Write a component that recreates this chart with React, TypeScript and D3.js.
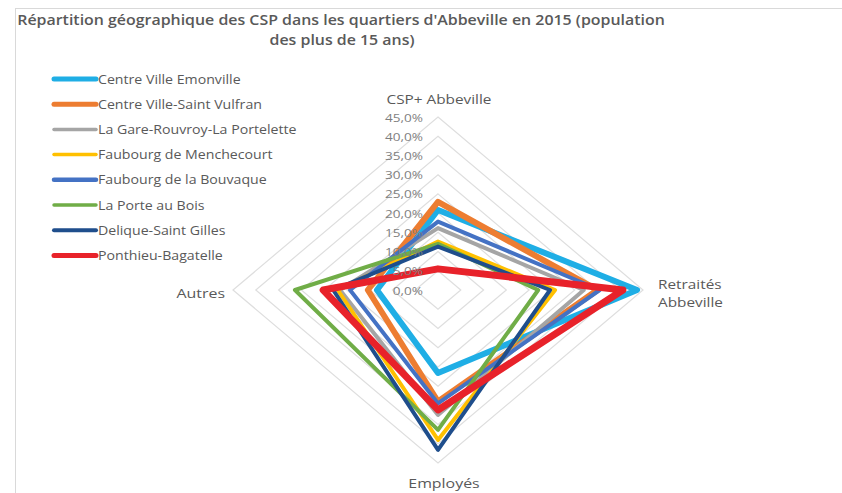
import React from "react";
import * as d3 from "d3";

const axes = ["CSP+ Abbeville", "Retraités Abbeville", "Employés", "Autres"];
const tickValues = [0, 0.05, 0.1, 0.15, 0.2, 0.25, 0.3, 0.35, 0.4, 0.45];

const seriesNames = [
  "Centre Ville Emonville",
  "Centre Ville-Saint Vulfran",
  "La Gare-Rouvroy-La Portelette",
  "Faubourg de Menchecourt",
  "Faubourg de la Bouvaque",
  "La Porte au Bois",
  "Delique-Saint Gilles",
  "Ponthieu-Bagatelle",
];

// values per axis: CSP+, Retraités, Employés, Autres
const centreVilleEmonville = [0.208, 0.437, 0.216, 0.134];
const centreVilleSaintVulfran = [0.229, 0.35, 0.29, 0.154];
const laGare = [0.161, 0.32, 0.325, 0.215];
const menchecourt = [0.126, 0.257, 0.39, 0.22];
const bouvaque = [0.178, 0.355, 0.295, 0.193];
const porteAuBois = [0.12, 0.22, 0.364, 0.314];
const deliqueSaintGilles = [0.113, 0.246, 0.416, 0.23];
const ponthieuBagatelle = [0.055, 0.406, 0.312, 0.252];

const seriesValues = [
  centreVilleEmonville,
  centreVilleSaintVulfran,
  laGare,
  menchecourt,
  bouvaque,
  porteAuBois,
  deliqueSaintGilles,
  ponthieuBagatelle,
];

const colors = ["#1FAEE5", "#ED7D31", "#A5A5A5", "#FFC000", "#4472C4", "#70AD47", "#1F4E8C", "#E8222A"];
const widths = [6, 6, 4, 4, 4, 4, 4, 7];
const legendWidths = [5, 5, 3.5, 3.5, 4.5, 3.5, 4, 5];

const W = 842;
const H = 493;
const cx = 438;
const cy = 290;
const rx = 205;
const ry = 173;
const STRETCH = 1.18;
const font = "'Open Sans', sans-serif";
const textColor = "#595959";

function SText(props: {
  x: number;
  y: number;
  size: number;
  anchor?: string;
  weight?: number;
  fill?: string;
  children: React.ReactNode;
}) {
  const { x, y, size, anchor = "start", weight = 400, fill = textColor, children } = props;
  return (
    <g transform={`translate(${x},${y}) scale(${STRETCH},1)`}>
      <text
        x={0}
        y={0}
        textAnchor={anchor}
        fontFamily={font}
        fontSize={size}
        fontWeight={weight}
        fill={fill}
      >
        {children}
      </text>
    </g>
  );
}

export default function App() {
  const sx = d3.scaleLinear().domain([0, 0.45]).range([0, rx]);
  const sy = d3.scaleLinear().domain([0, 0.45]).range([0, ry]);
  const angle = (i: number) => (i * Math.PI) / 2 - Math.PI / 2;
  const pt = (i: number, v: number): [number, number] => [
    cx + Math.cos(angle(i)) * sx(v),
    cy + Math.sin(angle(i)) * sy(v),
  ];
  const line = d3.line<[number, number]>().curve(d3.curveLinearClosed);
  const fmt = (v: number) => (v * 100).toFixed(1).replace(".", ",") + "%";

  return (
    <svg
      width={W}
      height={H}
      style={{ position: "absolute", left: 0, top: 0, background: "#fff" }}
    >
      <rect x={0} y={0} width={W} height={H} fill="#fff" />
      <rect x={15.5} y={8.5} width={W} height={H} fill="none" stroke="#d9d9d9" />
      <SText x={341} y={25} size={13.5} anchor="middle" weight={600}>
        Répartition géographique des CSP dans les quartiers d'Abbeville en 2015 (population
      </SText>
      <SText x={342} y={45} size={13.5} anchor="middle" weight={600}>
        des plus de 15 ans)
      </SText>

      {/* grid */}
      {tickValues.slice(1).map((t) => (
        <path
          key={t}
          d={line(axes.map((_, i) => pt(i, t))) || ""}
          fill="none"
          stroke="#dedede"
          strokeWidth={1.2}
        />
      ))}

      {/* series */}
      {seriesValues.map((vals, s) => (
        <path
          key={s}
          d={line(vals.map((v, i) => pt(i, v))) || ""}
          fill="none"
          stroke={colors[s]}
          strokeWidth={widths[s]}
          strokeLinejoin="round"
        />
      ))}

      {/* tick labels */}
      {tickValues.map((t) => (
        <SText key={t} x={cx - 15} y={cy - sy(t) + 4.5} size={11.5} anchor="end" fill="#7f7f7f">
          {fmt(t)}
        </SText>
      ))}

      {/* axis labels */}
      <SText x={cx + 1} y={104} size={13} anchor="middle">
        {axes[0]}
      </SText>
      <SText x={658} y={289} size={13}>
        Retraités
      </SText>
      <SText x={658} y={307} size={13}>
        Abbeville
      </SText>
      <SText x={cx + 6} y={488} size={13.5} anchor="middle">
        {axes[2]}
      </SText>
      <SText x={225} y={298} size={13.5} anchor="end">
        {axes[3]}
      </SText>

      {/* legend */}
      {seriesNames.map((name, s) => {
        const y = 79 + s * 25.2;
        return (
          <g key={name}>
            <line
              x1={54}
              x2={96}
              y1={y}
              y2={y}
              stroke={colors[s]}
              strokeWidth={legendWidths[s]}
              strokeLinecap="round"
            />
            <SText x={98} y={y + 4.5} size={12}>
              {name}
            </SText>
          </g>
        );
      })}
    </svg>
  );
}
